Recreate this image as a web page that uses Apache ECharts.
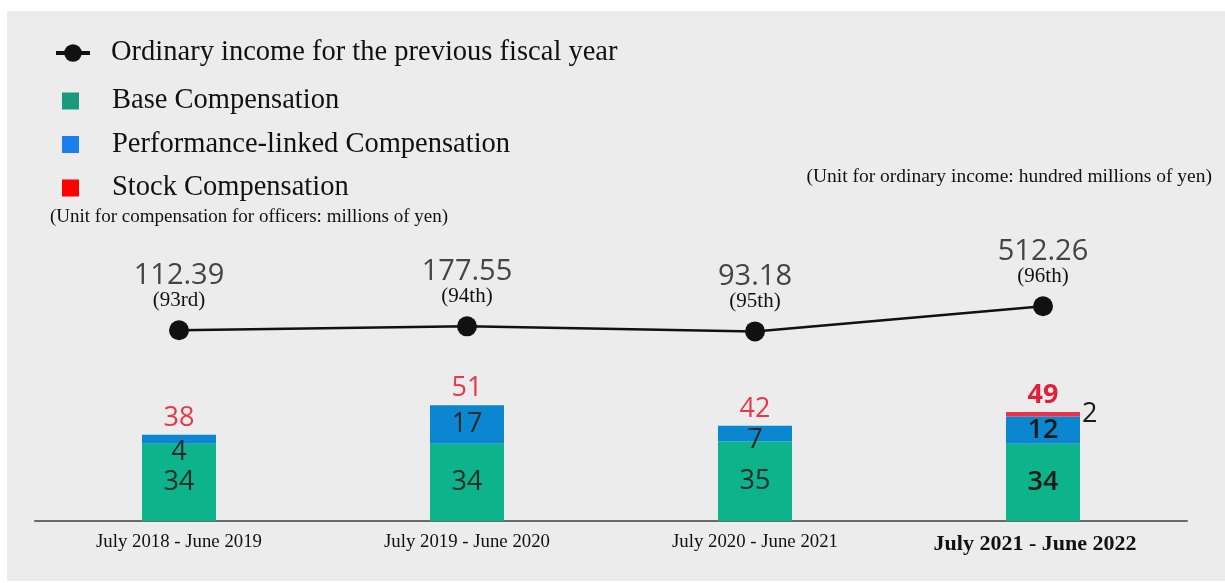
<!DOCTYPE html>
<html><head><meta charset="utf-8">
<script src="https://cdn.jsdelivr.net/npm/echarts@6/dist/echarts.min.js"></script>
<style>html,body{margin:0;padding:0;background:#fff}#c{width:1225px;height:583px}</style>
</head><body><div id="c"></div>
<script>
const categories = ['July 2018 - June 2019','July 2019 - June 2020','July 2020 - June 2021','July 2021 - June 2022'];
const baseComp = [34, 34, 35, 34];
const perfComp = [4, 17, 7, 12];
const stockComp = [0, 0, 0, 2];
const totals = [38, 51, 42, 49];
const ordinaryIncome = [112.39, 177.55, 93.18, 512.26];
const ranks = ['(93rd)', '(94th)', '(95th)', '(96th)'];

const serif = '"Liberation Serif", "Times New Roman", serif';
const sans = '"Open Sans", "Noto Sans", sans-serif';
const last = categories.length - 1;

function items(arr, boldLabel) {
  return arr.map((v, i) => i === last ? {value: v, label: boldLabel} : v);
}

const chart = echarts.init(document.getElementById('c'));
chart.setOption({
  animation: false,
  backgroundColor: '#ffffff',
  graphic: [{type: 'rect', z: -10, silent: true, shape: {x: 7, y: 11, width: 1218, height: 570}, style: {fill: '#ececec'}}],
  title: [
    {text: '(Unit for compensation for officers: millions of yen)', left: 50, top: 208, padding: 0,
     textStyle: {fontFamily: serif, fontSize: 19, fontWeight: 'normal', color: '#111'}},
    {text: '(Unit for ordinary income: hundred millions of yen)', right: 13, top: 167, padding: 0,
     textStyle: {fontFamily: serif, fontSize: 19.5, fontWeight: 'normal', color: '#111'}}
  ],
  legend: [
    {data: ['Ordinary income for the previous fiscal year'], orient: 'vertical', left: 54, top: 38, padding: 0,
     itemWidth: 34, itemHeight: 22, lineStyle: {width: 4},
     textStyle: {fontFamily: serif, fontSize: 28.5, color: '#111', lineHeight: 30, padding: [0, 0, 0, 16]}},
    {data: [
      {name: 'Base Compensation', itemStyle: {color: '#1a9a7c'}},
      {name: 'Performance-linked Compensation', itemStyle: {color: '#1a7fe8'}},
      {name: 'Stock Compensation', itemStyle: {color: '#ff0000'}}
     ], orient: 'vertical', left: 62, top: 86, padding: 0, itemGap: 13.5, icon: 'rect',
     itemWidth: 17, itemHeight: 17,
     textStyle: {fontFamily: serif, fontSize: 28.5, color: '#111', lineHeight: 30, padding: [0, 0, 0, 28]}}
  ],
  grid: [
    {left: 35, width: 1152, top: 294, bottom: 62},
    {left: 35, width: 1152, top: 301, height: 36}
  ],
  xAxis: [
    {type: 'category', data: categories, gridIndex: 0,
     axisLine: {lineStyle: {color: '#6a6a6a', width: 2}}, axisTick: {show: false},
     axisLabel: {margin: 12, fontFamily: serif, fontSize: 18.8, color: '#111',
       formatter: (v, i) => i === last ? '{b|' + v + '}' : v,
       rich: {b: {fontFamily: serif, fontSize: 22, fontWeight: 'bold', color: '#111', padding: [0, 16, 0, 0]}}}},
    {type: 'category', data: categories, gridIndex: 1, show: false}
  ],
  yAxis: [
    {type: 'value', gridIndex: 0, min: 0, max: 100, show: false},
    {type: 'value', gridIndex: 1, min: 0, max: 600, show: false}
  ],
  series: [
    {name: 'Base Compensation', type: 'bar', stack: 'comp', barWidth: 74,
     itemStyle: {color: '#0db38a'},
     label: {show: true, position: 'inside', fontFamily: sans, fontSize: 27, color: '#2b2b2b'},
     data: items(baseComp, {fontWeight: 600, color: '#1a1a1a'})},
    {name: 'Performance-linked Compensation', type: 'bar', stack: 'comp', barWidth: 74,
     itemStyle: {color: '#0a87d0'},
     label: {show: true, position: 'inside', fontFamily: sans, fontSize: 27, color: '#2b2b2b'},
     data: perfComp.map((v, i) => {
       if (i === 0) return {value: v, label: {offset: [0, 13]}};
       if (i === 2) return {value: v, label: {offset: [0, 7]}};
       if (i === last) return {value: v, label: {fontWeight: 600, color: '#1a1a1a'}};
       return v;
     })},
    {name: 'Stock Compensation', type: 'bar', stack: 'comp', barWidth: 74,
     itemStyle: {color: '#e8354d'},
     label: {show: true, position: 'right', distance: 2, fontFamily: sans, fontSize: 27, fontWeight: 500, color: '#1a1a1a',
       formatter: p => p.value ? String(p.value) : ''},
     data: stockComp},
    {name: 'Total', type: 'bar', stack: 'comp', barWidth: 74,
     itemStyle: {color: 'transparent'},
     label: {show: true, position: 'top', distance: 3, fontFamily: sans, fontSize: 27, color: '#e8384a',
       formatter: p => String(totals[p.dataIndex])},
     data: totals.map((t, i) => i === last ? {value: 0, label: {fontWeight: 'bold', color: '#e0203a'}} : 0)},
    {name: 'Ordinary income for the previous fiscal year', type: 'line', xAxisIndex: 1, yAxisIndex: 1,
     symbol: 'circle', symbolSize: 20,
     lineStyle: {color: '#111', width: 2.5}, itemStyle: {color: '#111'},
     label: {show: true, position: 'top', distance: 8,
       formatter: p => '{v|' + p.value + '}\n{r|' + ranks[p.dataIndex] + '}',
       rich: {v: {fontFamily: sans, fontSize: 29, lineHeight: 28, color: '#444', align: 'center'},
              r: {fontFamily: serif, fontSize: 21, lineHeight: 23, color: '#111', align: 'center'}}},
     data: ordinaryIncome}
  ]
});
</script></body></html>
